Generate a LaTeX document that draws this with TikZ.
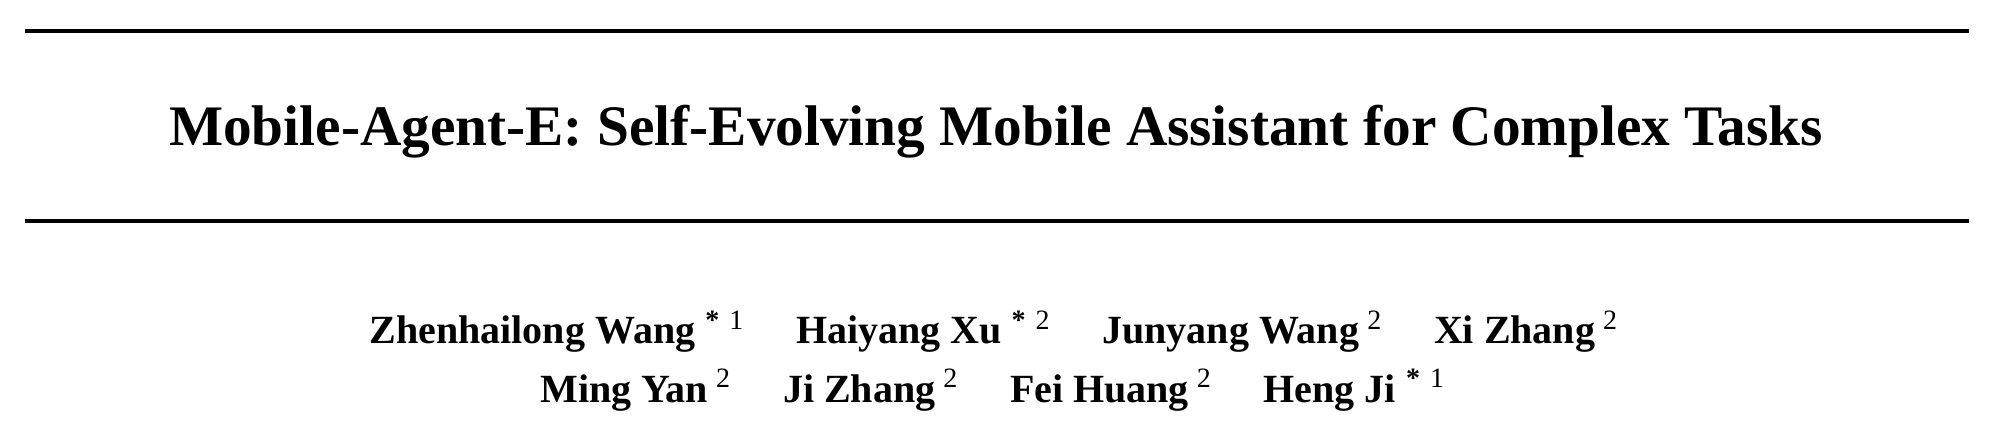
\documentclass[tikz,border=0pt]{standalone}
\usepackage{fontspec}
\setmainfont{Liberation Serif}
\usetikzlibrary{positioning}
\newcommand{\affmark}[1]{\hspace{2pt}\textsuperscript{\mdseries #1}}
\newcommand{\eqaffmark}[1]{\hspace{2.5pt}\textsuperscript{*\hspace{2.5pt}\mdseries #1}}
\newcommand{\authgap}{\hspace{12.7pt}}
\begin{document}
\begin{tikzpicture}[
    x=1pt, y=1pt,
    rulebar/.style={line width=0.95pt},
    titletext/.style={inner sep=0pt, anchor=base, font=\fontsize{14.33}{17}\selectfont\bfseries},
    authorrow/.style={inner sep=0pt, anchor=base, font=\fontsize{10}{12}\selectfont\bfseries}
]
\useasboundingbox (0,0) rectangle (500.5,-109);
\coordinate (topl) at (6.25,-7.75);
\coordinate (topr) at (492.25,-7.75);
\coordinate (botl) at (6.25,-55.3);
\coordinate (botr) at (492.25,-55.3);
\draw[rulebar] (topl) -- (topr);
\draw[rulebar] (botl) -- (botr);

\node[titletext] (title) at (249,-36.4) {Mobile-Agent-E: Self-Evolving Mobile Assistant for Complex Tasks};

\node[authorrow] (rowone) at (248.6,-86) {Zhenhailong Wang\eqaffmark{1}\authgap Haiyang Xu\eqaffmark{2}\authgap Junyang Wang\affmark{2}\authgap Xi Zhang\affmark{2}};
\node[authorrow] (rowtwo) at (248.3,-100.6) {Ming Yan\affmark{2}\authgap Ji Zhang\affmark{2}\authgap Fei Huang\affmark{2}\authgap Heng Ji\eqaffmark{1}};
\end{tikzpicture}
\end{document}
